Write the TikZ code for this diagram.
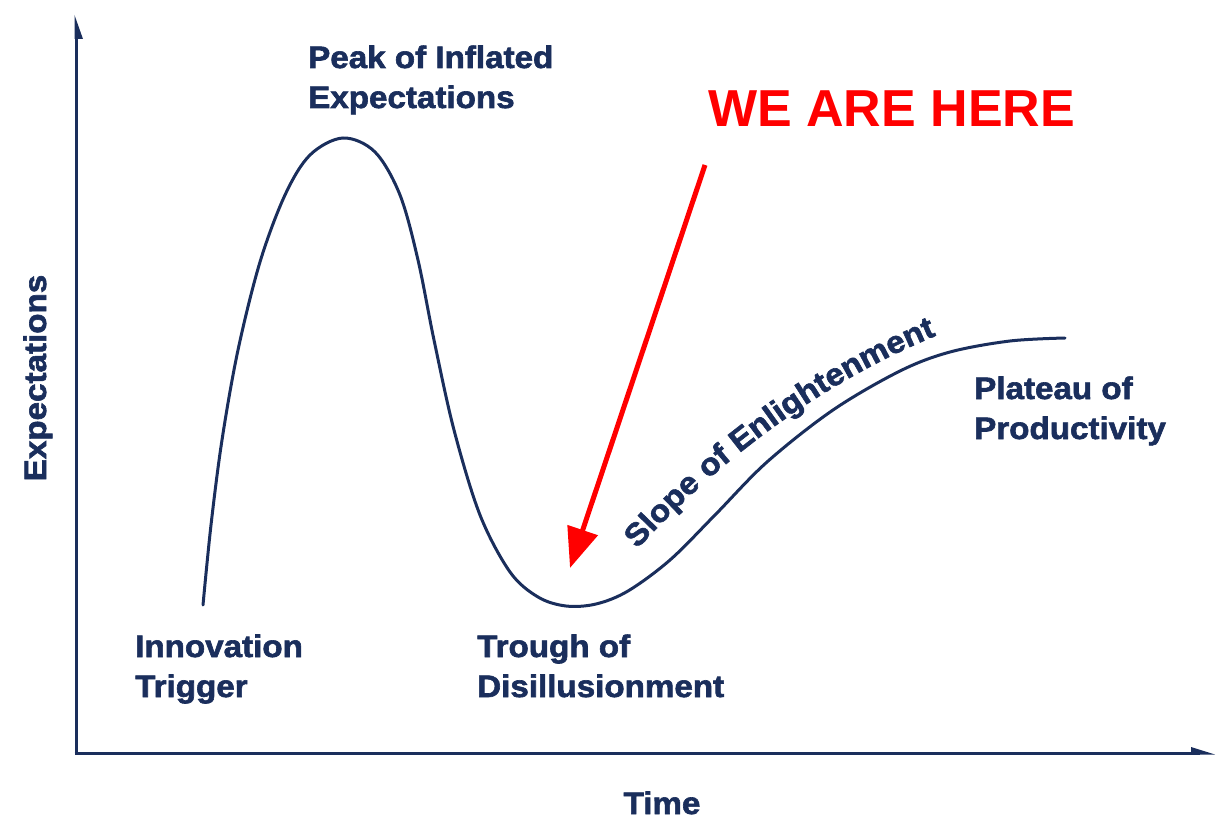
\documentclass[tikz,border=0pt]{standalone}
\usepackage{fontspec}
\usetikzlibrary{arrows.meta,decorations.text}
\newfontfamily\lblfont{Liberation Sans}[FakeStretch=1.07,FakeBold=2]
\newfontfamily\redfont{Liberation Sans}
\definecolor{navy}{HTML}{1A2E5C}
\definecolor{hypered}{HTML}{FF0000}
\tikzset{
  lbl/.style={text=navy, font=\lblfont\bfseries\fontsize{31}{40}\selectfont, align=left, inner sep=0pt, anchor=base west},
  axisline/.style={draw=navy, line width=3pt},
  hype/.style={draw=navy, line width=3pt, line cap=round},
}
\begin{document}
\begin{tikzpicture}[x=1pt,y=-1pt]
\useasboundingbox (0,0) rectangle (1224,832);
% axes
\coordinate (origin) at (76,753);
\coordinate (ytip) at (76,15);
\coordinate (xtip) at (1215,753);
\draw[axisline] (76,754.5) -- (76,30);
\draw[axisline] (74.5,753) -- (1200,753);
\fill[navy] (74.5,15) -- (83,39) -- (74.5,39) -- cycle;
\fill[navy] (1215,754.5) -- (1191,747) -- (1191,754.5) -- cycle;
% hype curve
\draw[hype] plot[smooth, tension=0.55] coordinates {
 (203,605) (211,525) (222,440) (238,350) (260,262) (285,195) (310,155) (343,138)
 (375,152) (400,195) (418,260) (434,340) (454,430) (480,515) (510,572) (538,597)
 (566,606) (596,604) (628,591) (670,560) (715,515) (767,462) (833,410) (900,371) (950,352)
 (1010,341) (1065,338)};
% labels (base = last line)
\node[lbl] (peak) at (308,108) {Peak of Inflated\\Expectations};
\node[lbl] (trigger) at (135,697) {Innovation\\Trigger};
\node[lbl] (trough) at (477,697) {Trough of\\Disillusionment};
\node[lbl] (plateau) at (974,439) {Plateau of\\Productivity};
\node[lbl, anchor=base] (time) at (662,814) {Time};
\node[lbl, anchor=base, rotate=90] (expect) at (46,378) {Expectations};
\path[decorate, decoration={text along path, text align=center,
  text={|\lblfont\bfseries\fontsize{31}{40}\selectfont\color{navy}|Slope of Enlightenment}}]
  (631,556) .. controls (710,468) and (815,384) .. (945,332);
% red annotation
\node[text=hypered, font=\redfont\bfseries\fontsize{52}{60}\selectfont, inner sep=0pt, anchor=base west] (here) at (708,127) {WE ARE HERE};
\coordinate (arrowstart) at (705,165);
\coordinate (arrowtip) at (570,568);
\draw[hypered, line width=5pt, -{Triangle[length=40pt,width=31pt]}] (arrowstart) -- (arrowtip);
\end{tikzpicture}
\end{document}
